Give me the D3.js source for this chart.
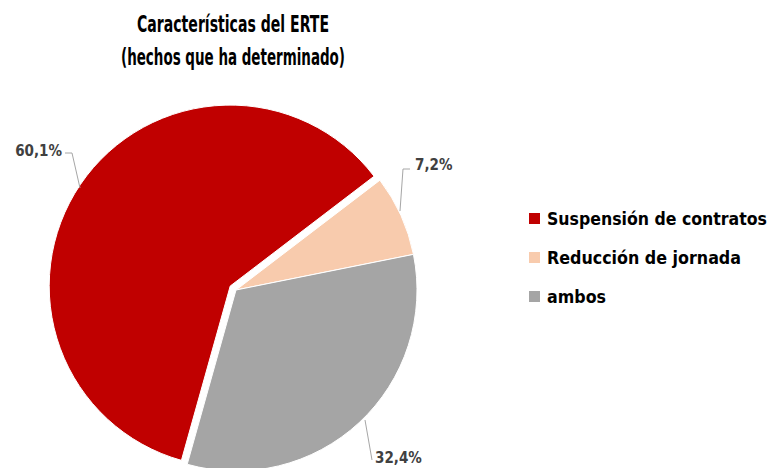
<!DOCTYPE html>
<html>
<head>
<meta charset="utf-8">
<script src="https://cdn.jsdelivr.net/npm/d3@7"></script>
<style>
  body { margin: 0; background: #fff; }
  text { font-family: "DejaVu Sans Condensed", "Liberation Sans", sans-serif; font-weight: bold; }
</style>
</head>
<body>
<svg id="main" width="771" height="468"></svg>
<script>
// datos del gráfico
var categorias = ["Suspensión de contratos", "Reducción de jornada", "ambos"]
var valores = [60.1, 7.2, 32.4]
var etiquetas = ["60,1%", "7,2%", "32,4%"]
var colores = ["#C00000", "#F8CBAD", "#A5A5A5"]
var titulo = ["Características del ERTE", "(hechos que ha determinado)"]

var svg = d3.select('#main')
var cx = 236, cy = 290, radio = 181

// ancho de cada texto medido en la referencia (fuente Calibri, más estrecha)
var anchoTitulo = [192, 224]
var anchoLeyenda = [220, 194, 59]

svg.selectAll('text.titulo').data(titulo).enter().append('text')
    .attr('class', 'titulo')
    .attr('x', 233).attr('y', function(d, i) { return [32, 65][i] })
    .attr('text-anchor', 'middle')
    .attr('textLength', function(d, i) { return anchoTitulo[i] })
    .attr('lengthAdjust', 'spacingAndGlyphs')
    .style('font-size', '23px').attr('fill', '#000')
    .text(function(d) { return d })

// el sector rojo empieza abajo; el melocotón arranca en ~52º
var inicio = 52 * Math.PI / 180 - (valores[0] / 100) * 2 * Math.PI
var pie = d3.pie().sort(null).value(function(d) { return d })
    .startAngle(inicio).endAngle(inicio + 2 * Math.PI)
var arcos = pie(valores)
var arc = d3.arc().innerRadius(0).outerRadius(radio)

var g = svg.append('g').attr('transform', 'translate(' + cx + ',' + cy + ')')
g.selectAll('path').data(arcos).enter().append('path')
    .attr('d', arc)
    .attr('fill', function(d, i) { return colores[i] })
    .attr('stroke', '#fff')
    .attr('stroke-width', 1)
    .attr('transform', function(d, i) {
        if (i !== 0) return null
        var m = (d.startAngle + d.endAngle) / 2
        return 'translate(' + (Math.sin(m) * 7) + ',' + (-Math.cos(m) * 7) + ')'
    })

// etiquetas con línea guía
var guias = [
    { tx: -174, ty: -134, codo: [[-156, -102], [-164, -137], [-171, -137]] },
    { tx: 179, ty: -120, codo: [[164, -79], [167, -121], [174, -121]] },
    { tx: 139, ty: 173, codo: [[129, 130], [136, 170]] }
]
arcos.forEach(function(d, i) {
    var gd = guias[i]
    g.append('path')
        .attr('d', d3.line()(gd.codo))
        .attr('fill', 'none').attr('stroke', '#A6A6A6').attr('stroke-width', 1)
    g.append('text')
        .attr('x', gd.tx).attr('y', gd.ty)
        .attr('text-anchor', i === 0 ? 'end' : 'start')
        .style('font-size', '15px').attr('fill', '#404040')
        .text(etiquetas[i])
})

// leyenda
var ley = svg.append('g').selectAll('g').data(categorias).enter().append('g')
    .attr('transform', function(d, i) { return 'translate(529,' + [219, 258, 297][i] + ')' })
ley.append('rect').attr('x', 0).attr('y', -6).attr('width', 11).attr('height', 11)
    .attr('fill', function(d, i) { return colores[i] })
ley.append('text').attr('x', 18).attr('y', 6)
    .attr('textLength', function(d, i) { return anchoLeyenda[i] })
    .attr('lengthAdjust', 'spacingAndGlyphs')
    .style('font-size', '17px').attr('fill', '#000')
    .text(function(d) { return d })
</script>
</body>
</html>
